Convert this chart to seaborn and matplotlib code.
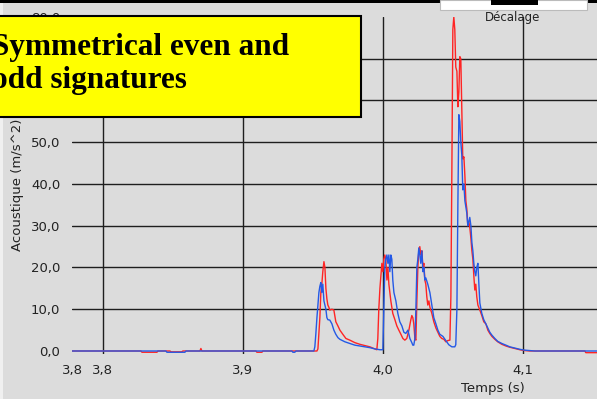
import numpy as np
import pandas as pd
import matplotlib
matplotlib.use("Agg")
import matplotlib.pyplot as plt
from matplotlib.patches import Rectangle
import seaborn as sns

# ---- data (time in ms, acceleration in m/s^2) ----
red_t_ms = [3777.9, 3827.1, 3827.9, 3838.6, 3839.3, 3847.9, 3848.6, 3856.4, 3857.1,
            3869.3, 3870.0, 3870.7, 3909.3, 3910.0, 3913.6, 3914.3,
            3952.9, 3953.6, 3955.0, 3955.7, 3956.4, 3957.1, 3957.9, 3958.6, 3959.3,
            3960.0, 3960.7, 3961.4, 3962.1, 3963.6, 3965.0, 3966.4, 3967.9, 3969.3,
            3971.4, 3973.6, 3976.4, 3980.0, 3983.6, 3987.1, 3990.7, 3994.3, 3995.7,
            3996.4, 3997.1, 3997.9, 3998.6, 3999.3, 4000.0, 4000.7, 4001.4, 4002.1,
            4002.9, 4003.6, 4004.3, 4005.0, 4005.7, 4007.1, 4008.6, 4010.0, 4011.4,
            4012.9, 4014.3, 4015.7, 4017.1, 4018.6, 4020.0, 4020.7, 4021.4, 4022.1,
            4022.9, 4023.6, 4024.3, 4025.0, 4025.7, 4026.4, 4027.1, 4027.9, 4028.6,
            4029.3, 4030.0, 4030.7, 4031.4, 4032.1, 4032.9, 4033.6, 4035.0, 4036.4,
            4037.9, 4039.3, 4040.7, 4042.1, 4043.6, 4045.0, 4046.4, 4047.9, 4048.6,
            4049.3, 4050.0, 4050.7, 4051.4, 4052.1, 4052.9, 4053.6, 4054.3, 4055.0,
            4055.7, 4056.4, 4057.1, 4057.9, 4058.6, 4059.3, 4060.0, 4060.7, 4061.4,
            4062.1, 4062.9, 4063.6, 4064.3, 4065.0, 4065.7, 4066.4, 4067.1, 4067.9,
            4069.3, 4070.7, 4072.1, 4073.6, 4075.0, 4076.4, 4077.9, 4080.0, 4082.1,
            4085.0, 4087.9, 4090.7, 4094.3, 4097.9, 4101.4, 4105.0, 4144.3, 4145.0,
            4155.0]
red_v = [0, 0, -0.3, -0.3, 0, 0, -0.2, -0.2, 0,
         0, 0.6, 0, 0, -0.3, -0.3, 0,
         0, 0.5, 8, 14, 16, 19, 21.4, 20, 15,
         12.5, 11, 10.5, 9.8, 10, 9.8, 7, 6, 5,
         4, 3, 2.6, 2.0, 1.6, 1.3, 1.0, 0.5, 0.3,
         3, 10, 15, 18, 21, 19, 22, 23, 22,
         17, 20, 16, 14, 12, 9, 7.5, 6, 5,
         4, 3, 2.6, 3, 5, 7.5, 8.5, 8, 6.5,
         3, 2.6, 12, 20, 24, 25, 23, 24, 20,
         21, 17, 16, 13, 11, 12, 10.5, 9, 7,
         5.5, 4.5, 3.5, 3, 2.8, 2.2, 2.5, 2.6, 13,
         43, 77, 80, 77, 68, 67, 58.5, 62, 70.5,
         70, 58, 46, 46.5, 42, 36, 34, 30, 31,
         29.7, 27, 24, 22, 18, 14.6, 16, 13, 11,
         9.8, 8.5, 7, 6.5, 5, 4.2, 3.5, 2.8, 2.2,
         1.6, 1.2, 0.9, 0.6, 0.3, 0.1, 0, 0, -0.4,
         -0.4]

blue_t_ms = [3777.9, 3845.0, 3845.7, 3858.6, 3859.3, 3935.0, 3935.7, 3937.1, 3937.9,
             3950.7, 3951.4, 3952.1, 3952.9, 3953.6, 3954.3, 3955.0, 3955.7, 3956.4,
             3957.1, 3957.9, 3958.6, 3959.3, 3960.0, 3960.7, 3962.1, 3963.6, 3965.0,
             3966.4, 3967.9, 3969.3, 3972.9, 3976.4, 3980.0, 3983.6, 3987.1, 3990.7,
             3994.3, 3997.9, 4000.0, 4000.7, 4001.4, 4002.1, 4002.9, 4003.6, 4004.3,
             4005.0, 4005.7, 4006.4, 4007.1, 4007.9, 4009.3, 4010.7, 4012.1, 4013.6,
             4015.0, 4016.4, 4017.9, 4019.3, 4020.7, 4021.4, 4022.1, 4022.9, 4023.6,
             4024.3, 4025.0, 4025.7, 4026.4, 4027.1, 4027.9, 4028.6, 4029.3, 4030.0,
             4030.7, 4032.1, 4033.6, 4035.0, 4036.4, 4037.9, 4039.3, 4040.7, 4042.9,
             4045.0, 4047.1, 4049.3, 4051.4, 4052.1, 4052.9, 4053.6, 4054.3, 4055.0,
             4055.7, 4056.4, 4057.1, 4057.9, 4058.6, 4059.3, 4060.0, 4060.7, 4061.4,
             4062.1, 4062.9, 4063.6, 4064.3, 4065.0, 4065.7, 4066.4, 4067.1, 4067.9,
             4068.6, 4069.3, 4070.7, 4072.1, 4073.6, 4075.0, 4076.4, 4077.9, 4080.0,
             4082.1, 4085.0, 4087.9, 4090.7, 4094.3, 4097.9, 4101.4, 4105.0, 4108.6,
             4155.0]
blue_v = [0, 0, -0.3, -0.3, 0, 0, -0.3, -0.3, 0,
          0, 1, 4, 8, 11, 14, 15.5, 16.4, 14,
          16, 12, 11, 10, 8, 7.5, 7.4, 6.5, 5,
          4, 3.2, 2.8, 2.2, 1.8, 1.4, 1.2, 1.0, 0.8,
          0.5, 0.3, 0.3, 10, 20, 22, 23, 21, 23,
          19, 23, 22, 17, 14, 12, 9, 7, 6,
          4.5, 4.2, 5, 3, 2, 1.4, 1.4, 3, 10,
          20, 22, 24.7, 23, 21, 24, 19, 20, 17,
          17.5, 16, 14, 11, 8, 6.5, 5, 4, 3.5,
          2.5, 1.5, 1.0, 1.0, 1.5, 10, 35, 56.6, 55,
          50, 47, 38.6, 40, 36, 34.5, 33, 30, 31,
          32, 30, 26, 24, 21, 19, 18, 20, 21,
          16, 11.5, 9, 7.5, 6.5, 5.5, 4.5, 3.8, 3,
          2.3, 1.8, 1.4, 1.0, 0.7, 0.4, 0.2, 0.1, 0,
          0]

x_ticks = [3.7779, 3.8, 3.9, 4.0, 4.1]
x_tick_labels = ["3,8", "3,8", "3,9", "4,0", "4,1"]
y_ticks = [0, 10, 20, 30, 40, 50, 60, 70, 80]
y_tick_labels = ["0,0", "10,0", "20,0", "30,0", "40,0", "50,0", "60,0", "70,0", "80,0"]

df = pd.concat([
    pd.DataFrame({"t": np.array(red_t_ms) / 1000.0, "v": red_v, "s": "red"}),
    pd.DataFrame({"t": np.array(blue_t_ms) / 1000.0, "v": blue_v, "s": "blue"}),
], ignore_index=True)

# ---- figure ----
sns.set_style("white")
plt.rcParams["font.family"] = ["DejaVu Sans"]
BG = "#DCDCDC"
W, H = 597, 399
fig = plt.figure(figsize=(W / 100, H / 100), dpi=100, facecolor=BG)

ax_left, ax_top, ax_bottom = 72, 17, 353.5
ax = fig.add_axes([ax_left / W, (H - ax_bottom) / H, 1 - ax_left / W, (ax_bottom - ax_top) / H])
ax.set_facecolor(BG)

sns.lineplot(data=df, x="t", y="v", hue="s", hue_order=["red", "blue"],
             palette={"red": "#FF2424", "blue": "#2459E6"}, estimator=None, sort=False,
             linewidth=1.0, legend=False, ax=ax, zorder=3)

ax.set_xlim(x_ticks[0], 4.153)
ax.set_ylim(-0.6, 80)
ax.set_xticks(x_ticks)
ax.set_xticklabels(x_tick_labels)
ax.set_yticks(y_ticks)
ax.set_yticklabels(y_tick_labels)
for s in ax.spines.values():
    s.set_visible(False)

ax.grid(True, color="#1E1E1E", linewidth=1.0)
ax.set_axisbelow(True)
ax.xaxis.get_gridlines()[0].set_visible(False)
ax.yaxis.get_gridlines()[0].set_visible(False)
ax.yaxis.get_gridlines()[-1].set_visible(False)

ax.tick_params(axis="x", direction="out", length=4.5, width=1.0, color="#333333",
               pad=3, labelsize=9.5, labelcolor="#222222")
ax.tick_params(axis="y", direction="out", length=4, width=1.0, color="#333333",
               pad=4.5, labelsize=9.5, labelcolor="#222222")

ax.set_xlabel("Temps (s)", fontsize=9.5, color="#222222")
ax.xaxis.set_label_coords((493 - ax_left) / (W - ax_left), -(382 - ax_bottom) / (ax_bottom - ax_top))
ax.set_ylabel("Acoustique (m/s^2)", fontsize=9.5, color="#222222")
ax.yaxis.set_label_coords(-(ax_left - 24) / (W - ax_left), 0.5)

# ---- decorations ----
def px_rect(x0, y0, x1, y1, **kw):
    r = Rectangle((x0 / W, 1 - y1 / H), (x1 - x0) / W, (y1 - y0) / H,
                  transform=fig.transFigure, **kw)
    fig.patches.append(r)
    return r

px_rect(0, 0, 3, H, facecolor="#F0F0F0", edgecolor="none", zorder=1)
px_rect(0, 0, W, 3, facecolor="black", edgecolor="none", zorder=5)
px_rect(440, 0, 587, 10, facecolor="white", edgecolor="#BBBBBB", linewidth=0.8, zorder=5)
px_rect(491, 0, 538, 5, facecolor="black", edgecolor="none", zorder=6)

fig.text(513 / W, 1 - 17.5 / H, "Décalage", ha="center", va="center",
         fontsize=8.5, color="#222222", zorder=6)

px_rect(-5, 16, 361, 117, facecolor="#FFFF00", edgecolor="black", linewidth=1.5, zorder=7)
fig.text(-8 / W, 1 - 55 / H, "Symmetrical even and", ha="left", va="baseline",
         fontsize=22.5, fontweight="bold", family=["Liberation Serif", "DejaVu Serif"],
         color="black", zorder=8)
fig.text(-8 / W, 1 - 88 / H, "odd signatures", ha="left", va="baseline",
         fontsize=22.5, fontweight="bold", family=["Liberation Serif", "DejaVu Serif"],
         color="black", zorder=8)

fig.savefig("out.png", dpi=100, facecolor=BG)
